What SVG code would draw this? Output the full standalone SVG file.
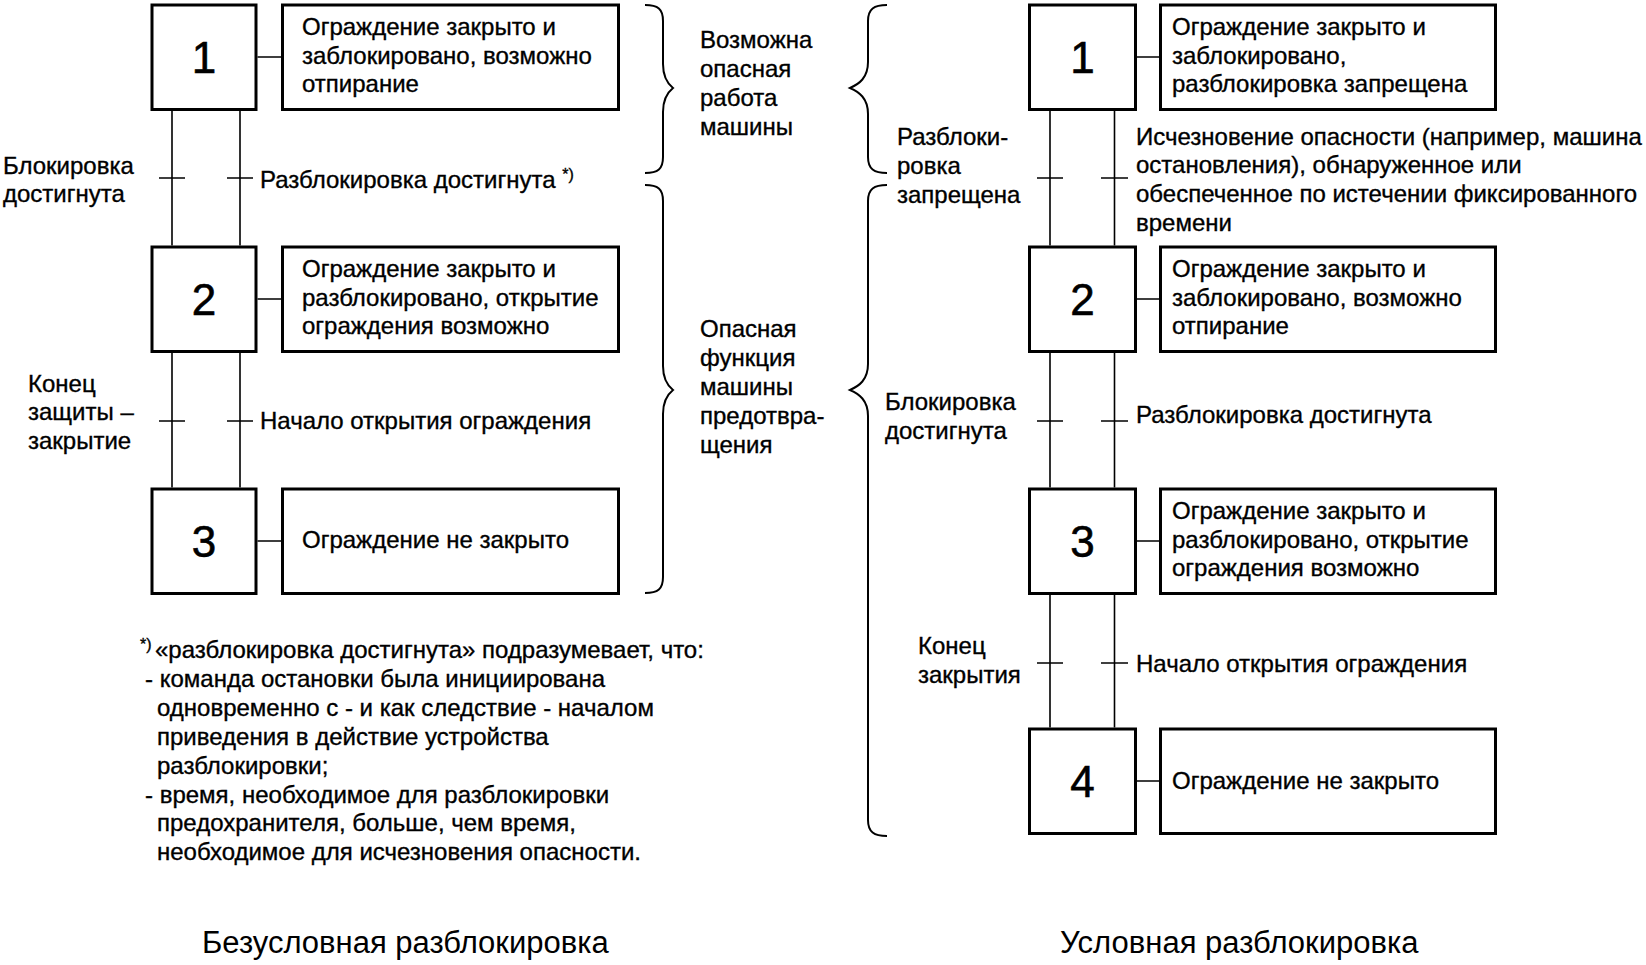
<svg xmlns="http://www.w3.org/2000/svg" width="1646" height="965" viewBox="0 0 1646 965">
<style>
text{font-family:"Liberation Sans",Arial,sans-serif;font-size:24px;fill:#000;stroke:#000;stroke-width:0.35px}
.num{font-size:44px;text-anchor:middle;stroke-width:0.6px}
.sup{font-size:16px}
.cap{font-size:31px;stroke:none}
.step,.act{fill:#fff;stroke:#000;stroke-width:3}
.ln{stroke:#000;stroke-width:1.6;fill:none}
.br{stroke:#000;stroke-width:2;fill:none}
</style>
<rect width="1646" height="965" fill="#fff"/>
<g id="connectors">
<path class="ln" d="M257.5 57H281M257.5 299H281M257.5 541H281"/>
<path class="ln" d="M172 111V245.5M240 111V245.5M172 353V487.5M240 353V487.5"/>
<path class="ln" d="M159 178H185M227 178H253M159 421H185M227 421H253"/>
<path class="ln" d="M1137 57H1159M1137 299H1159M1137 541H1159M1137 781H1159"/>
<path class="ln" d="M1050 111V245.5M1114.5 111V245.5M1050 353V487.5M1114.5 353V487.5M1050 595V727.5M1114.5 595V727.5"/>
<path class="ln" d="M1037 178H1063M1101 178H1128M1037 421H1063M1101 421H1128M1037 663H1063M1101 663H1128"/>
</g>
<g id="braces">
<path class="br" d="M645 5C658 5 663 9 663 21L663 64C663 78 668 84 673 88C668 92 663 98 663 112L663 157C663 169 658 173 645 173"/>
<path class="br" d="M645 185C658 185 663 189 663 201L663 366C663 380 668 386 673 390C668 394 663 400 663 414L663 577C663 589 658 593 645 593"/>
<path class="br" d="M887 5C874 5 868 9 868 21L868 62C868 78 859 84 850 88C859 92 868 98 868 114L868 157C868 169 874 173 887 173"/>
<path class="br" d="M887 185C874 185 868 189 868 201L868 364C868 380 859 386 850 390C859 394 868 400 868 416L868 820C868 832 874 836 887 836"/>
</g>
<g id="L1"><rect class="step" x="152" y="5" width="104" height="104.5"/><text class="num" x="204" y="73">1</text></g>
<g id="L1a"><rect class="act" x="282.5" y="5" width="336" height="104.5"/>
<text x="302" y="35">Ограждение закрыто и</text><text x="302" y="63.5">заблокировано, возможно</text><text x="302" y="92">отпирание</text></g>
<g id="L2"><rect class="step" x="152" y="247" width="104" height="104.5"/><text class="num" x="204" y="315">2</text></g>
<g id="L2a"><rect class="act" x="282.5" y="247" width="336" height="104.5"/>
<text x="302" y="277">Ограждение закрыто и</text><text x="302" y="305.5">разблокировано, открытие</text><text x="302" y="334">ограждения возможно</text></g>
<g id="L3"><rect class="step" x="152" y="489" width="104" height="104.5"/><text class="num" x="204" y="557">3</text></g>
<g id="L3a"><rect class="act" x="282.5" y="489" width="336" height="104.5"/>
<text x="302" y="548">Ограждение не закрыто</text></g>
<g id="Lt1"><text x="260" y="188">Разблокировка достигнута <tspan class="sup" dy="-8">*)</tspan></text>
<text x="3" y="173.5">Блокировка</text><text x="3" y="202">достигнута</text></g>
<g id="Lt2"><text x="260" y="429">Начало открытия ограждения</text>
<text x="28" y="391.5">Конец</text><text x="28" y="420">защиты –</text><text x="28" y="448.5">закрытие</text></g>
<g id="mid">
<text x="700" y="48">Возможна</text><text x="700" y="77">опасная</text><text x="700" y="106">работа</text><text x="700" y="135">машины</text>
<text x="700" y="337">Опасная</text><text x="700" y="366">функция</text><text x="700" y="395">машины</text><text x="700" y="424">предотвра-</text><text x="700" y="452.5">щения</text>
</g>
<g id="note">
<text class="sup" x="140" y="650">*)</text>
<text x="155" y="658">«разблокировка достигнута» подразумевает, что:</text>
<text x="145" y="687">- команда остановки была инициирована</text>
<text x="157" y="716">одновременно с - и как следствие - началом</text>
<text x="157" y="745">приведения в действие устройства</text>
<text x="157" y="773.5">разблокировки;</text>
<text x="145" y="802.5">- время, необходимое для разблокировки</text>
<text x="157" y="831">предохранителя, больше, чем время,</text>
<text x="157" y="860">необходимое для исчезновения опасности.</text>
</g>
<g id="R1"><rect class="step" x="1029.5" y="5" width="106" height="104.5"/><text class="num" x="1082.5" y="73">1</text></g>
<g id="R1a"><rect class="act" x="1160.5" y="5" width="335" height="104.5"/>
<text x="1172" y="35">Ограждение закрыто и</text><text x="1172" y="63.5">заблокировано,</text><text x="1172" y="92">разблокировка запрещена</text></g>
<g id="R2"><rect class="step" x="1029.5" y="247" width="106" height="104.5"/><text class="num" x="1082.5" y="315">2</text></g>
<g id="R2a"><rect class="act" x="1160.5" y="247" width="335" height="104.5"/>
<text x="1172" y="277">Ограждение закрыто и</text><text x="1172" y="305.5">заблокировано, возможно</text><text x="1172" y="334">отпирание</text></g>
<g id="R3"><rect class="step" x="1029.5" y="489" width="106" height="104.5"/><text class="num" x="1082.5" y="557">3</text></g>
<g id="R3a"><rect class="act" x="1160.5" y="489" width="335" height="104.5"/>
<text x="1172" y="519">Ограждение закрыто и</text><text x="1172" y="547.5">разблокировано, открытие</text><text x="1172" y="576">ограждения возможно</text></g>
<g id="R4"><rect class="step" x="1029.5" y="729" width="106" height="104.5"/><text class="num" x="1082.5" y="797">4</text></g>
<g id="R4a"><rect class="act" x="1160.5" y="729" width="335" height="104.5"/>
<text x="1172" y="789">Ограждение не закрыто</text></g>
<g id="Rt1"><text x="1136" y="144.5">Исчезновение опасности (например, машина</text><text x="1136" y="173">остановления), обнаруженное или</text><text x="1136" y="202">обеспеченное по истечении фиксированного</text><text x="1136" y="230.5">времени</text>
<text x="897" y="145">Разблоки-</text><text x="897" y="174">ровка</text><text x="897" y="203">запрещена</text></g>
<g id="Rt2"><text x="1136" y="423">Разблокировка достигнута</text>
<text x="885" y="410">Блокировка</text><text x="885" y="438.5">достигнута</text></g>
<g id="Rt3"><text x="1136" y="672">Начало открытия ограждения</text>
<text x="918" y="654">Конец</text><text x="918" y="682.5">закрытия</text></g>
<g id="captions"><text class="cap" x="202" y="953">Безусловная разблокировка</text><text class="cap" x="1060" y="953">Условная разблокировка</text></g>
</svg>
